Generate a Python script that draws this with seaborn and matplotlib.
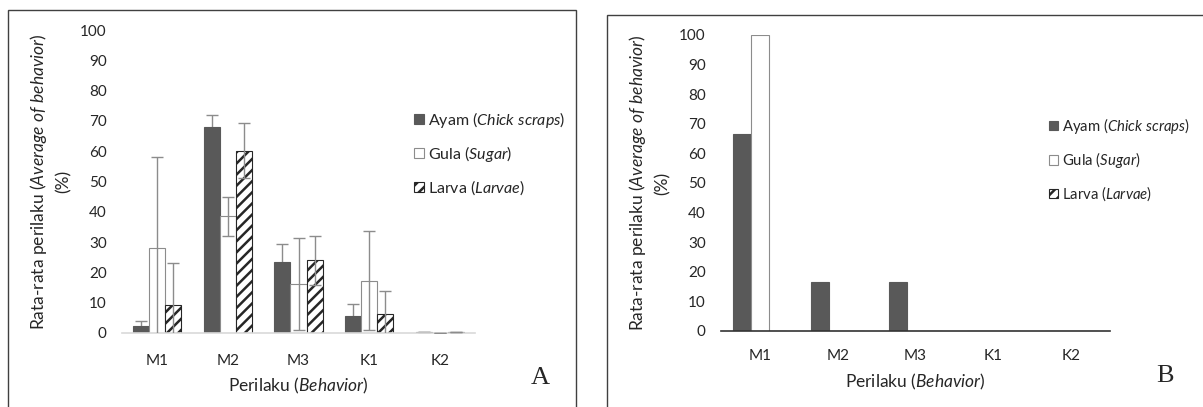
import matplotlib
matplotlib.use("Agg")
import matplotlib.pyplot as plt
from matplotlib.patches import Rectangle, Patch
import pandas as pd
import seaborn as sns

# ------------------- DATOS ------------------- #

categories = ["M1", "M2", "M3", "K1", "K2"]
series = ["Ayam", "Gula", "Larva"]
legend_labels = [r"Ayam $\mathit{(Chick\ scraps)}$",
                 r"Gula $\mathit{(Sugar)}$",
                 r"Larva $\mathit{(Larvae)}$"]

# Panel A (rata-rata dan galat)
ayam_a = [2.3, 67.9, 23.4, 5.7, 0.3]
gula_a = [28.0, 38.5, 16.2, 17.2, 0.0]
larva_a = [9.4, 60.2, 24.0, 6.3, 0.3]
ayam_a_err = [1.6, 3.9, 5.9, 3.9, 0.0]
gula_a_err = [30.2, 6.4, 15.1, 16.3, 0.0]
larva_a_err = [13.7, 9.0, 8.0, 7.4, 0.0]

# Panel B
ayam_b = [66.7, 16.7, 16.7, 0.0, 0.0]
gula_b = [100.0, 0.0, 0.0, 0.0, 0.0]
larva_b = [0.0, 0.0, 0.0, 0.0, 0.0]

# ------------------- ESTILO ------------------- #

sns.set_style("white")
plt.rcParams["font.family"] = ["Lato", "DejaVu Sans"]
plt.rcParams["mathtext.fontset"] = "custom"
plt.rcParams["mathtext.rm"] = "Lato"
plt.rcParams["mathtext.it"] = "Lato:italic"
plt.rcParams["hatch.linewidth"] = 1.8

face = {"Ayam": "#595959", "Gula": "white", "Larva": "white"}
edge = {"Ayam": "#595959", "Gula": "#8c8c8c", "Larva": "#262626"}
hatch = {"Ayam": None, "Gula": None, "Larva": "///"}
err_color = "#8c8c8c"
text_color = "#262626"


def long_df(a, g, l):
    rows = []
    for name, vals in zip(series, [a, g, l]):
        for c, v in zip(categories, vals):
            rows.append({"Perilaku": c, "Pakan": name, "Nilai": v})
    return pd.DataFrame(rows)


def draw_panel(ax, df, errs=None, spine_color="#d9d9d9", xpad=12, lpad=8):
    sns.barplot(data=df, x="Perilaku", y="Nilai", hue="Pakan", order=categories,
                hue_order=series, errorbar=None, width=0.68, saturation=1,
                palette=[face[s] for s in series], legend=False, ax=ax)
    for name, cont in zip(series, ax.containers):
        for bar in cont:
            bar.set_facecolor(face[name])
            bar.set_edgecolor(edge[name])
            bar.set_linewidth(0.8)
            bar.set_zorder(2)
            if hatch[name]:
                bar.set_hatch(hatch[name])
        if errs is not None:
            xs = [b.get_x() + b.get_width() / 2 for b in cont]
            ys = [b.get_height() for b in cont]
            ax.errorbar(xs, ys, yerr=errs[name], fmt="none", ecolor=err_color,
                        elinewidth=1, capsize=4, capthick=1,
                        zorder=1 if name == "Ayam" else 4)
    ax.set_ylim(0, 100)
    ax.set_xlim(-0.5, 4.5)
    ax.set_yticks(range(0, 101, 10))
    ax.tick_params(axis="both", length=0, labelsize=11, colors=text_color)
    ax.tick_params(axis="y", pad=11)
    ax.tick_params(axis="x", pad=xpad)
    sns.despine(ax=ax, left=True)
    ax.spines["bottom"].set_color(spine_color)
    ax.spines["bottom"].set_linewidth(1.2)
    ax.spines["bottom"].set_zorder(3)
    ax.set_xlabel(r"Perilaku $\mathit{(Behavior)}$", fontsize=12.5, labelpad=lpad,
                  color=text_color)
    ax.set_ylabel(r"Rata-rata perilaku $\mathit{(Average\ of\ behavior)}$" + "\n(%)",
                  fontsize=12.5, labelpad=6, linespacing=1.5, color=text_color)
    handles = [Patch(facecolor=face[s], edgecolor=edge[s], hatch=hatch[s], linewidth=0.8)
               for s in series]
    return handles


fig = plt.figure(figsize=(12.03, 4.07), dpi=100)

# ------------------- PANEL A ------------------- #
ax_a = fig.add_axes([122 / 1203, 1 - 333 / 407, 353 / 1203, 303 / 407])
errs_a = {"Ayam": ayam_a_err, "Gula": gula_a_err, "Larva": larva_a_err}
h = draw_panel(ax_a, long_df(ayam_a, gula_a, larva_a), errs_a, "#d9d9d9", 15, 6)
fig.legend(h, legend_labels, loc="upper left", bbox_to_anchor=(414 / 1203, 1 - 110 / 407),
           frameon=False, fontsize=11.5, handlelength=0.6, handleheight=0.6,
           handletextpad=0.3, labelspacing=0.88, borderpad=0, borderaxespad=0)
fig.text(540 / 1203, 1 - 378 / 407, "A", family="Liberation Serif", fontsize=19,
         ha="center", va="center")

# ------------------- PANEL B ------------------- #
ax_b = fig.add_axes([721 / 1203, 1 - 331 / 407, 389 / 1203, 296 / 407])
h = draw_panel(ax_b, long_df(ayam_b, gula_b, larva_b), None, "#333333", 13, 6)
fig.legend(h, legend_labels, loc="upper left", bbox_to_anchor=(1049 / 1203, 1 - 116 / 407),
           frameon=False, fontsize=10.7, handlelength=0.6, handleheight=0.6,
           handletextpad=0.3, labelspacing=0.95, borderpad=0, borderaxespad=0)
fig.text(1165 / 1203, 1 - 376 / 407, "B", family="Liberation Serif", fontsize=19,
         ha="center", va="center")

# ------------------- MARCOS ------------------- #
fig.add_artist(Rectangle((8 / 1203, -0.1), 568 / 1203, 1.1 - 10 / 407, fill=False,
                         edgecolor="#404040", linewidth=1, transform=fig.transFigure))
fig.add_artist(Rectangle((607 / 1203, -0.1), 1.0, 1.1 - 15 / 407, fill=False,
                         edgecolor="#404040", linewidth=1, transform=fig.transFigure))

fig.savefig("out.png", dpi=100)
plt.close(fig)
